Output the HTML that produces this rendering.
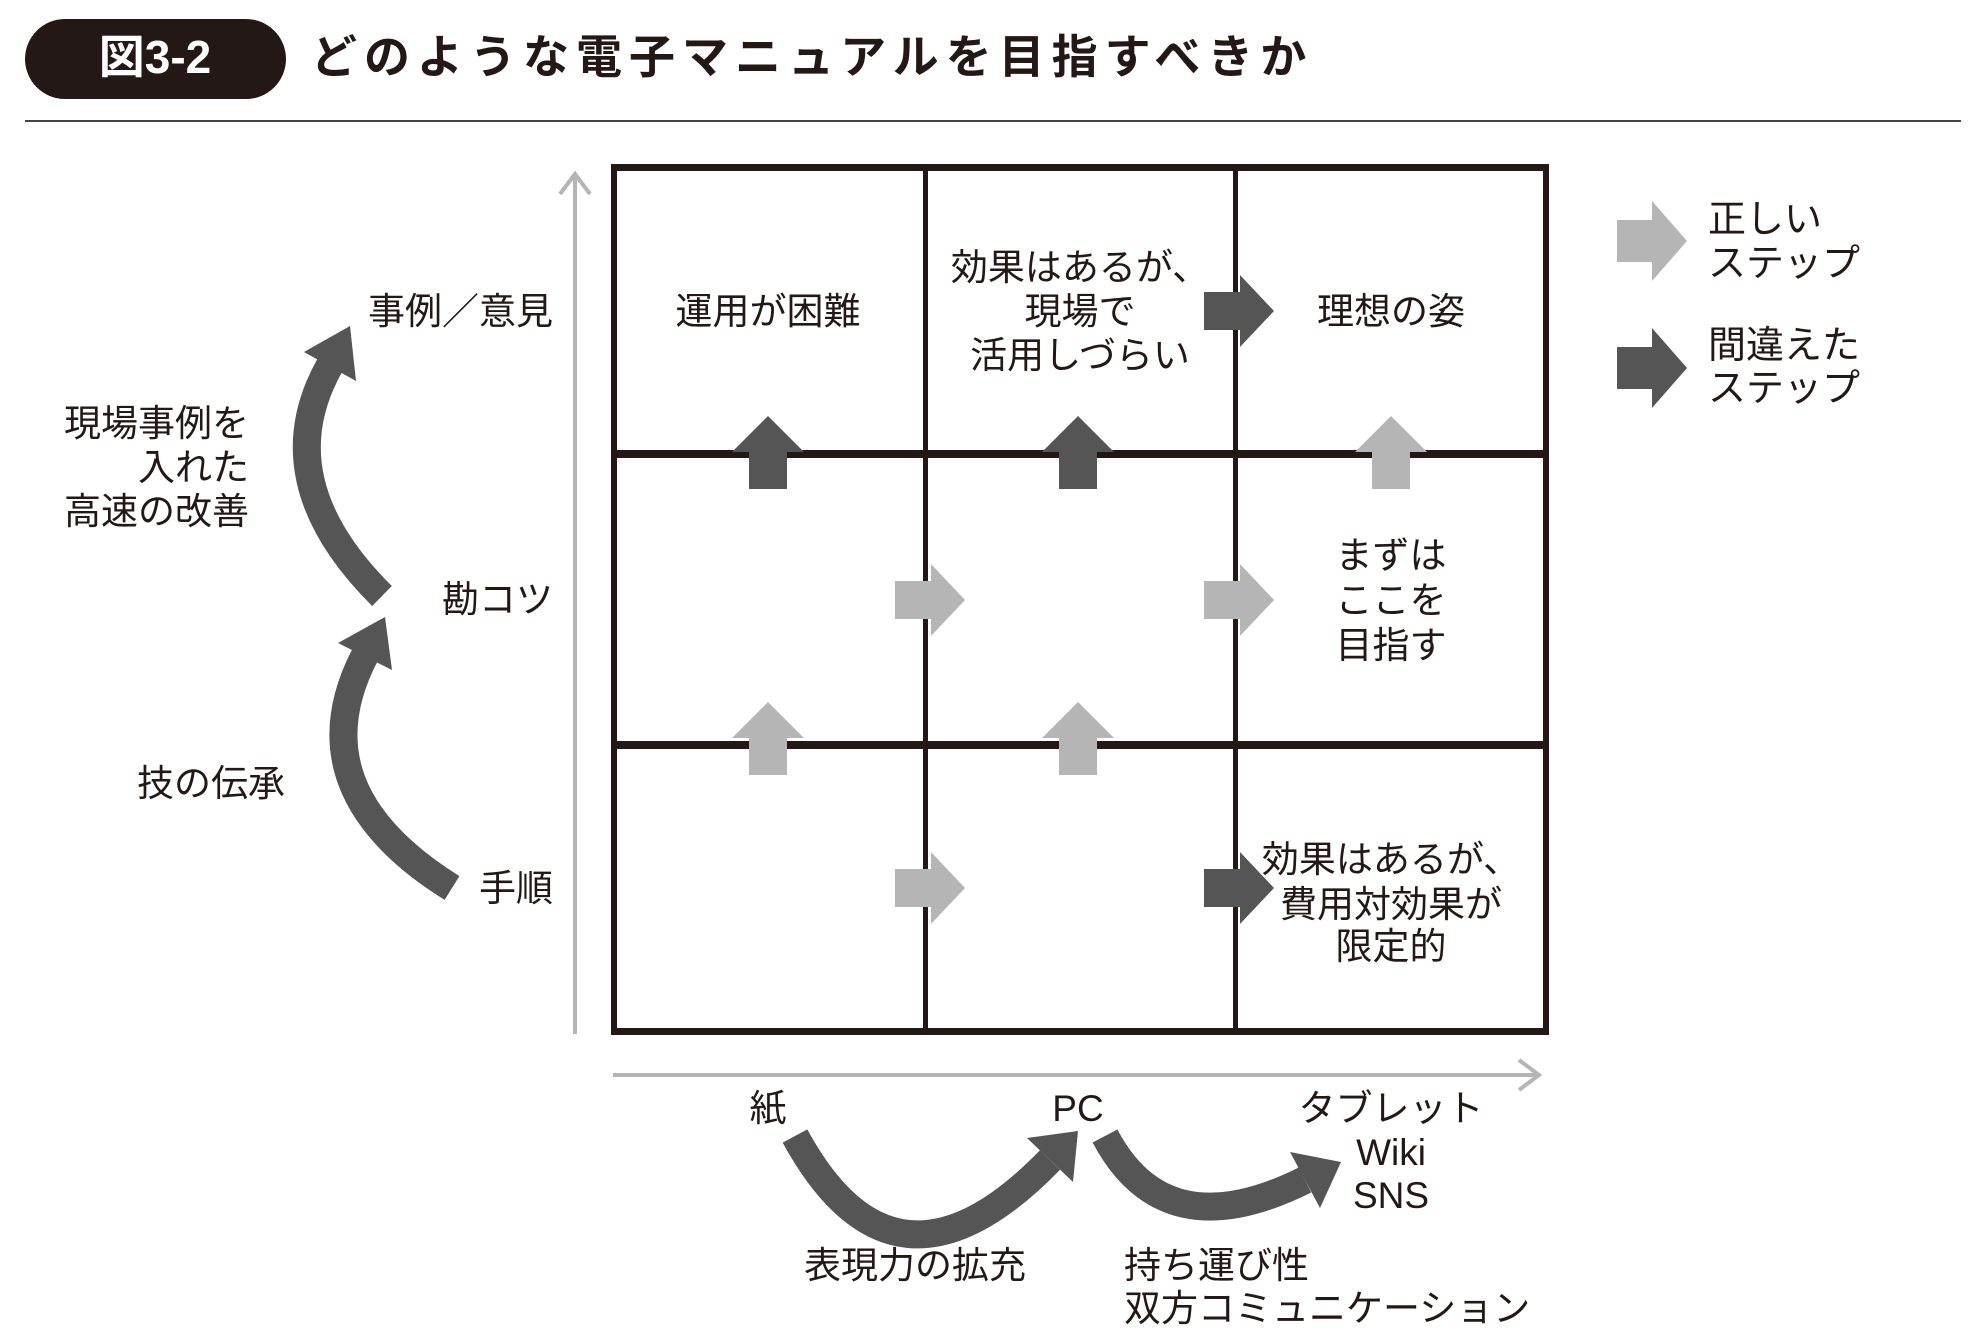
<!DOCTYPE html>
<html><head><meta charset="utf-8"><style>
html,body{margin:0;padding:0;background:#fff;}
svg{display:block;}
text{font-family:"Liberation Sans","Noto Sans CJK JP",sans-serif;fill:#231815;}
</style></head><body>
<svg width="1980" height="1338" viewBox="0 0 1980 1338" xmlns="http://www.w3.org/2000/svg">
<!-- title -->
<rect x="25" y="19" width="261" height="80" rx="40" fill="#231815"/>
<text x="155" y="73" font-size="46" font-weight="bold" text-anchor="middle" style="fill:#fff">図3-2</text>
<text x="311" y="73" font-size="46" font-weight="bold" letter-spacing="7" style="fill:#231815">どのような電子マニュアルを目指すべきか</text>
<rect x="25" y="120" width="1936" height="2" fill="#444"/>

<g transform="translate(-5,0)">
<!-- axes -->
<g stroke="#b5b5b5" stroke-width="4" fill="none">
<line x1="580" y1="1034" x2="580" y2="174"/>
<polyline points="565,194 580,174 595,194"/>
<line x1="618" y1="1075" x2="1543" y2="1075"/>
<polyline points="1524,1060 1544,1075 1524,1090"/>
</g>

<!-- grid -->
<g fill="#231815">
<rect x="617" y="164" width="937" height="7"/>
<rect x="617" y="1028" width="937" height="7"/>
<rect x="616" y="164" width="6" height="871"/>
<rect x="1548" y="164" width="6" height="871"/>
<rect x="928" y="164" width="5" height="871"/>
<rect x="1238" y="164" width="5" height="871"/>
<rect x="617" y="450" width="937" height="8"/>
<rect x="617" y="741" width="937" height="8"/>
</g>

<g>
<polygon fill="#555" points="773,416 809,452 792,452 792,489 754,489 754,452 737,452"/>
<polygon fill="#555" points="1083,416 1119,452 1102,452 1102,489 1064,489 1064,452 1047,452"/>
<polygon fill="#b5b5b5" points="1396,416 1432,452 1415,452 1415,489 1377,489 1377,452 1360,452"/>
<polygon fill="#b5b5b5" points="773,702 809,738 792,738 792,775 754,775 754,738 737,738"/>
<polygon fill="#b5b5b5" points="1083,702 1119,738 1102,738 1102,775 1064,775 1064,738 1047,738"/>
</g>
<g>
<polygon fill="#555" points="1209,292 1245,292 1245,275 1279,311 1245,347 1245,330 1209,330"/>
<polygon fill="#b5b5b5" points="900,581 936,581 936,564 970,600 936,636 936,619 900,619"/>
<polygon fill="#b5b5b5" points="1209,581 1245,581 1245,564 1279,600 1245,636 1245,619 1209,619"/>
<polygon fill="#b5b5b5" points="900,869 936,869 936,852 970,888 936,924 936,907 900,907"/>
<polygon fill="#555" points="1209,869 1245,869 1245,852 1279,888 1245,924 1245,907 1209,907"/>
</g>

<polygon fill="#b5b5b5" points="1622,220 1657,220 1657,201 1692,241 1657,281 1657,262 1622,262"/>
<polygon fill="#555" points="1622,347 1657,347 1657,328 1692,368 1657,408 1657,389 1622,389"/>
<g font-size="38">
<text x="1713" y="232">正しい</text>
<text x="1713" y="276">ステップ</text>
<text x="1713" y="358">間違えた</text>
<text x="1713" y="401">ステップ</text>
</g>

<g fill="none" stroke="#555" stroke-width="28">
<path d="M387,596 Q270,480 335,365"/>
<path d="M457,888 Q300,790 370,655"/>
<path d="M800,1136 Q900,1320 1055,1160"/>
<path d="M1110,1136 Q1170,1250 1310,1180"/>
</g>
<g fill="#555">
<polygon points="355,326 361,381 309,352"/>
<polygon points="390,617 397,670 343,643"/>
<polygon points="1083,1131 1078,1182 1032,1138"/>
<polygon points="1346,1162 1325,1208 1295,1152"/>
</g>

<g font-size="37">
<text x="558" y="324" text-anchor="end">事例／意見</text>
<text x="558" y="612" text-anchor="end">勘コツ</text>
<text x="558" y="901" text-anchor="end">手順</text>
<text x="254" y="436" text-anchor="end">現場事例を</text>
<text x="254" y="480" text-anchor="end">入れた</text>
<text x="254" y="524" text-anchor="end">高速の改善</text>
<text x="216" y="796" text-anchor="middle">技の伝承</text>

<text x="773" y="324" text-anchor="middle">運用が困難</text>
<text x="1085" y="280" text-anchor="middle">効果はあるが、</text>
<text x="1085" y="324" text-anchor="middle">現場で</text>
<text x="1085" y="368" text-anchor="middle">活用しづらい</text>
<text x="1396" y="324" text-anchor="middle">理想の姿</text>
<text x="1396" y="568" text-anchor="middle">まずは</text>
<text x="1396" y="613" text-anchor="middle">ここを</text>
<text x="1396" y="658" text-anchor="middle">目指す</text>
<text x="1396" y="872" text-anchor="middle">効果はあるが、</text>
<text x="1396" y="917" text-anchor="middle">費用対効果が</text>
<text x="1396" y="959" text-anchor="middle">限定的</text>

<text x="773" y="1121" text-anchor="middle">紙</text>
<text x="1083" y="1121" text-anchor="middle">PC</text>
<text x="1396" y="1121" text-anchor="middle">タブレット</text>
<text x="1396" y="1165" text-anchor="middle">Wiki</text>
<text x="1396" y="1208" text-anchor="middle">SNS</text>
<text x="920" y="1278" text-anchor="middle">表現力の拡充</text>
<text x="1129" y="1278">持ち運び性</text>
<text x="1129" y="1321">双方コミュニケーション</text>
</g>
</g>
</svg>
</body></html>
